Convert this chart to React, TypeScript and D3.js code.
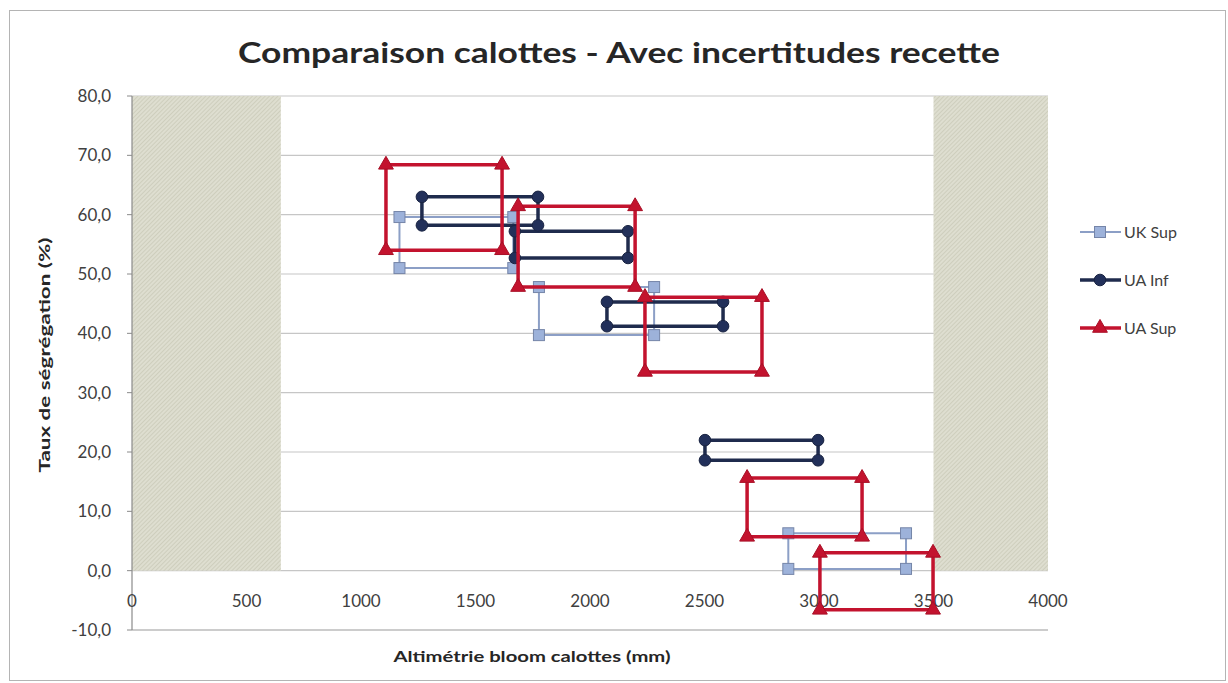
import * as d3 from "d3";

const W = 1228;
const H = 683;
const PLOT = { left: 132, right: 1048, top: 96, bottom: 630 };
const FONT = "Lato, 'Open Sans', sans-serif";

// Axis domains / ticks
const xDomain = [0, 4000];
const yDomain = [-10, 80];
const xTicks = [0, 500, 1000, 1500, 2000, 2500, 3000, 3500, 4000];

// Hatched zones (x ranges, from 0 up to 80 %)
const zoneStart = [0, 3500];
const zoneEnd = [650, 4000];
const zoneTop = 80;

// UK Sup boxes
const ukSupXMin = [1168, 1777, 2866];
const ukSupXMax = [1665, 2280, 3380];
const ukSupYMax = [59.6, 47.8, 6.3];
const ukSupYMin = [51.0, 39.7, 0.3];

// UA Inf boxes
const uaInfXMin = [1266, 1672, 2074, 2502];
const uaInfXMax = [1773, 2166, 2581, 2996];
const uaInfYMax = [63.0, 57.2, 45.3, 22.0];
const uaInfYMin = [58.2, 52.7, 41.2, 18.6];

// UA Sup boxes
const uaSupXMin = [1109, 1686, 2240, 2686, 3004];
const uaSupXMax = [1616, 2197, 2751, 3188, 3498];
const uaSupYMax = [68.4, 61.4, 46.1, 15.6, 3.0];
const uaSupYMin = [54.0, 47.8, 33.5, 5.7, -6.6];

const seriesNames = ["UK Sup", "UA Inf", "UA Sup"];

type Box = { x1: number; x2: number; y1: number; y2: number };

const toBoxes = (a: number[], b: number[], c: number[], d: number[]): Box[] =>
  a.map((_, i) => ({ x1: a[i], x2: b[i], y1: c[i], y2: d[i] }));

const SERIES = [
  {
    name: seriesNames[0],
    boxes: toBoxes(ukSupXMin, ukSupXMax, ukSupYMax, ukSupYMin),
    stroke: "#8c9fc6",
    width: 2,
    fill: "#9db2da",
    markerStroke: "#7585a8",
    marker: "square",
  },
  {
    name: seriesNames[1],
    boxes: toBoxes(uaInfXMin, uaInfXMax, uaInfYMax, uaInfYMin),
    stroke: "#1f2b4d",
    width: 3.5,
    fill: "#22305a",
    markerStroke: "#1a2442",
    marker: "circle",
  },
  {
    name: seriesNames[2],
    boxes: toBoxes(uaSupXMin, uaSupXMax, uaSupYMax, uaSupYMin),
    stroke: "#c3132e",
    width: 3.5,
    fill: "#c3132e",
    markerStroke: "#a80f26",
    marker: "triangle",
  },
];

const x = d3.scaleLinear().domain(xDomain).range([PLOT.left, PLOT.right]);
const y = d3.scaleLinear().domain(yDomain).range([PLOT.bottom, PLOT.top]);
const fmtY = (v: number) => d3.format(".1f")(v).replace(".", ",").replace("−", "-");

const line = d3
  .line<[number, number]>()
  .x((d) => x(d[0]))
  .y((d) => y(d[1]));

const Marker = ({ kind, cx, cy, fill, stroke }: any) => {
  if (kind === "square") {
    return <rect x={cx - 5.5} y={cy - 5.5} width={11} height={11} fill={fill} stroke={stroke} strokeWidth={1} />;
  }
  if (kind === "circle") {
    return <circle cx={cx} cy={cy} r={5.8} fill={fill} stroke={stroke} strokeWidth={1} />;
  }
  const tri = d3.symbol().type(d3.symbolTriangle).size(95)();
  return <path d={tri || ""} transform={`translate(${cx},${cy})`} fill={fill} stroke={stroke} strokeWidth={1} />;
};

export default function App() {
  const yTicks = y.ticks(10);

  return (
    <svg
      width={W}
      height={H}
      style={{ position: "absolute", left: 0, top: 0, background: "#fff" }}
      fontFamily={FONT}
    >
      <defs>
        <pattern id="hatch" width={3} height={3} patternUnits="userSpaceOnUse" patternTransform="rotate(45)">
          <rect width={3} height={3} fill="#deded0" />
          <line x1={0} y1={0} x2={0} y2={3} stroke="#c4c4b0" strokeWidth={1.2} />
        </pattern>
      </defs>

      <rect x={0} y={0} width={W} height={H} fill="#fff" />
      <rect x={9.5} y={10.5} width={1216} height={670} fill="none" stroke="#b4b4b4" strokeWidth={1} />

      {/* title */}
      <text
        x={619}
        y={63}
        textAnchor="middle"
        fontSize={29}
        fontWeight="bold"
        fill="#262626"
        textLength={762}
        lengthAdjust="spacingAndGlyphs"
      >
        Comparaison calottes - Avec incertitudes recette
      </text>

      {/* grid */}
      {yTicks.map((v) => (
        <g key={v}>
          <line x1={PLOT.left} x2={PLOT.right} y1={y(v)} y2={y(v)} stroke={v === -10 ? "#9a9a9a" : "#c6c6c6"} strokeWidth={1.2} />
          <line x1={PLOT.left - 5} x2={PLOT.left} y1={y(v)} y2={y(v)} stroke="#8a8a8a" />
          <text x={111} y={y(v)} dy="0.35em" textAnchor="end" fontSize={17} fill="#404040">
            {fmtY(v)}
          </text>
        </g>
      ))}

      {/* hatched zones */}
      {zoneStart.map((s, i) => (
        <rect
          key={i}
          x={x(s)}
          y={y(zoneTop)}
          width={x(zoneEnd[i]) - x(s)}
          height={y(0) - y(zoneTop)}
          fill="url(#hatch)"
        />
      ))}

      {/* y axis line */}
      <line x1={PLOT.left} x2={PLOT.left} y1={PLOT.top} y2={PLOT.bottom} stroke="#8a8a8a" strokeWidth={1.2} />

      {/* x tick labels */}
      {xTicks.map((v) => (
        <text key={v} x={x(v)} y={601} dy="0.35em" textAnchor="middle" fontSize={17} fill="#404040">
          {v}
        </text>
      ))}

      {/* series */}
      {SERIES.map((s) => (
        <g key={s.name}>
          {s.boxes.map((b, i) => (
            <path
              key={i}
              d={
                line([
                  [b.x1, b.y1],
                  [b.x2, b.y1],
                  [b.x2, b.y2],
                  [b.x1, b.y2],
                  [b.x1, b.y1],
                ]) || ""
              }
              fill="none"
              stroke={s.stroke}
              strokeWidth={s.width}
              strokeLinejoin="miter"
            />
          ))}
          {s.boxes.map((b, i) =>
            [
              [b.x1, b.y1],
              [b.x2, b.y1],
              [b.x2, b.y2],
              [b.x1, b.y2],
            ].map((p, j) => (
              <Marker key={`${i}-${j}`} kind={s.marker} cx={x(p[0])} cy={y(p[1])} fill={s.fill} stroke={s.markerStroke} />
            ))
          )}
        </g>
      ))}

      {/* axis titles */}
      <text
        x={532}
        y={662}
        textAnchor="middle"
        fontSize={16}
        fontWeight="bold"
        fill="#262626"
        textLength={277}
        lengthAdjust="spacingAndGlyphs"
      >
        Altimétrie bloom calottes (mm)
      </text>
      <text
        transform="translate(50,355) rotate(-90)"
        textAnchor="middle"
        fontSize={16}
        fontWeight="bold"
        fill="#262626"
        textLength={235}
        lengthAdjust="spacingAndGlyphs"
      >
        Taux de ségrégation (%)
      </text>

      {/* legend */}
      {SERIES.map((s, i) => {
        const ly = 232 + i * 48;
        return (
          <g key={s.name}>
            <line x1={1080} x2={1121} y1={ly} y2={ly} stroke={s.stroke} strokeWidth={s.width} />
            <Marker kind={s.marker} cx={1100} cy={ly} fill={s.fill} stroke={s.markerStroke} />
            <text x={1124} y={ly} dy="0.36em" fontSize={16} fill="#404040">
              {s.name}
            </text>
          </g>
        );
      })}
    </svg>
  );
}
